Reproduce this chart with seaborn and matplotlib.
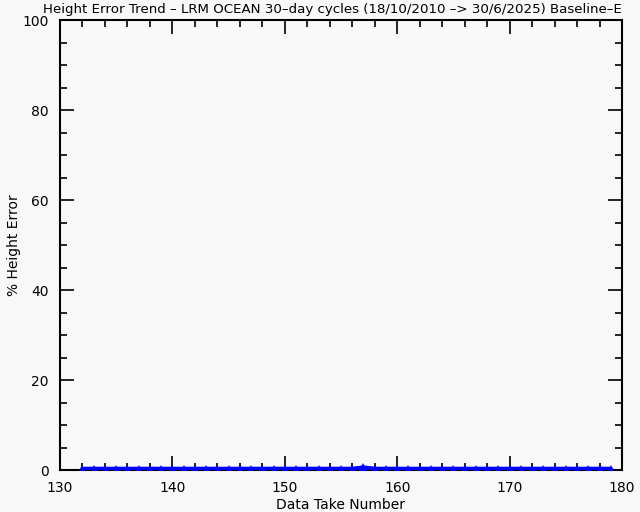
import numpy as np
import pandas as pd
import matplotlib
matplotlib.use("Agg")
import matplotlib.pyplot as plt
from matplotlib.ticker import MultipleLocator
import seaborn as sns

# data take numbers and % height error
data_take = list(range(132, 180))
height_error = [0.3, 0.3, 0.3, 0.3, 0.3, 0.3, 0.3, 0.3, 0.3, 0.3,
                0.3, 0.3, 0.3, 0.3, 0.3, 0.3, 0.3, 0.3, 0.3, 0.3,
                0.3, 0.3, 0.3, 0.3, 0.3, 0.6, 0.3, 0.3, 0.3, 0.3,
                0.3, 0.3, 0.3, 0.3, 0.3, 0.3, 0.3, 0.3, 0.3, 0.3,
                0.3, 0.3, 0.3, 0.3, 0.3, 0.3, 0.3, 0.3]

df = pd.DataFrame({"dt": data_take, "err": height_error})

sns.set_style("ticks")
plt.rcParams['font.family'] = ['DejaVu Sans']
plt.rcParams['text.color'] = 'black'
plt.rcParams['axes.labelcolor'] = 'black'
plt.rcParams['xtick.color'] = 'black'
plt.rcParams['ytick.color'] = 'black'
bg = "#f8f8f8"

fig = plt.figure(figsize=(6.4, 5.12), dpi=100, facecolor=bg)
ax = fig.add_axes([60/640, 1-470/512, 562/640, 450/512], facecolor=bg)

sns.lineplot(data=df, x="dt", y="err", ax=ax, color="#0000ff", linewidth=2.8,
             marker="^", markersize=5.5, markeredgewidth=0, zorder=3)

ax.set_xlim(130, 180)
ax.set_ylim(0, 100)
ax.xaxis.set_major_locator(MultipleLocator(10))
ax.xaxis.set_minor_locator(MultipleLocator(2))
ax.yaxis.set_major_locator(MultipleLocator(20))
ax.yaxis.set_minor_locator(MultipleLocator(5))
ax.tick_params(which="both", direction="in", top=True, right=True, color="black",
               labelsize=10, width=1.2, pad=8)
ax.tick_params(which="major", length=10)
ax.tick_params(which="minor", length=5)
for s in ax.spines.values():
    s.set_linewidth(1.5)
    s.set_color("black")

ax.set_xlabel("Data Take Number", fontsize=10, labelpad=2)
ax.set_ylabel("% Height Error", fontsize=10, va="center")
ax.yaxis.set_label_coords(-0.081, 0.5)
fig.text(0.52, 0.982, "Height Error Trend \u2013 LRM OCEAN 30\u2013day cycles (18/10/2010 \u2013> 30/6/2025) Baseline\u2013E",
         ha="center", va="center", fontsize=9.6)

fig.savefig("out.png", dpi=100, facecolor=bg)
